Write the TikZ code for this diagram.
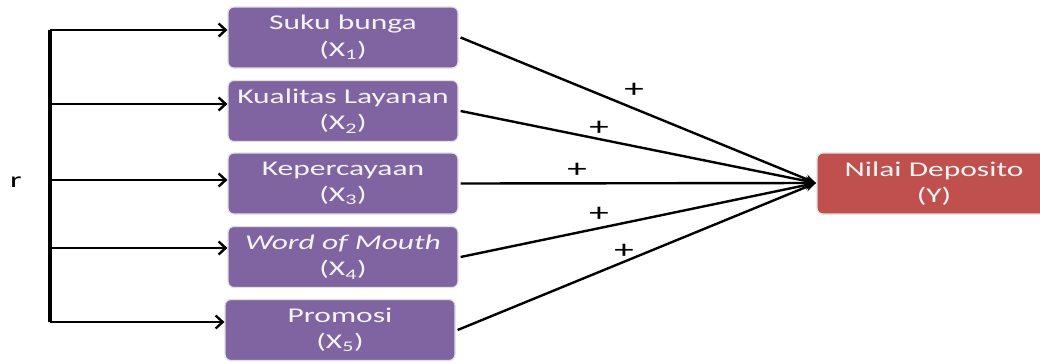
\documentclass[tikz,border=0pt]{standalone}
\usepackage{fontspec}
\setmainfont[FakeStretch=1.5]{Carlito}
\usetikzlibrary{arrows.meta}
\definecolor{boxpurple}{HTML}{8064A2}
\definecolor{boxred}{HTML}{C0504D}
\definecolor{boxtext}{HTML}{F4F4F4}
\begin{document}
\begin{tikzpicture}[x=1pt,y=-1pt,
  var/.style={draw=black!12, line width=1.2pt, fill=boxpurple, rounded corners=6pt,
    minimum width=230pt, minimum height=61pt, text=boxtext, align=center,
    font=\fontsize{21}{26.5}\selectfont, inner sep=0pt},
  dep/.style={var, fill=boxred, minimum width=234pt},
  feed/.style={line width=2.8pt, -{Straight Barb[length=7pt,width=13pt,line width=2.4pt]}},
  effect/.style={line width=2.4pt, -{Stealth[length=11pt,width=9pt]}},
  sign/.style={font=\fontsize{26}{26}\selectfont, inner sep=0pt},
]
\useasboundingbox (0,0) rectangle (1040,362);
\node[var] (b1) at (343,37.5) {Suku bunga\\(X\textsubscript{1})};
\node[var] (b2) at (343,111) {Kualitas Layanan\\(X\textsubscript{2})};
\node[var] (b3) at (343,183.5) {Kepercayaan\\(X\textsubscript{3})};
\node[var] (b4) at (343,257) {\textit{Word of Mouth}\\(X\textsubscript{4})};
\node[var] (b5) at (340,330) {Promosi\\(X\textsubscript{5})};
\node[dep] (y) at (934,183.5) {Nilai Deposito\\(Y)};
\node[font=\fontsize{22}{22}\selectfont, inner sep=0pt] (r) at (16,182) {r};
% bracket
\coordinate (t1) at (50,30);
\coordinate (t2) at (50,104);
\coordinate (t3) at (50,180);
\coordinate (t4) at (50,248);
\coordinate (t5) at (50,322);
\draw[line width=4.5pt] (t1) -- (t5);
\draw[feed] (t1) -- (t1 -| b1.west);
\draw[feed] (t2) -- (t2 -| b2.west);
\draw[feed] (t3) -- (t3 -| b3.west);
\draw[feed] (t4) -- (t4 -| b4.west);
\draw[feed] (t5) -- (t5 -| b5.west);
% effects
\coordinate (tip) at (816,183);
\draw[effect] ([xshift=2pt]b1.east) -- (tip);
\draw[effect] ([xshift=2pt]b2.east) -- (tip);
\draw[effect] ([xshift=2pt]b3.east) -- (tip);
\draw[effect] ([xshift=2pt]b4.east) -- (tip);
\draw[effect] ([xshift=2pt]b5.east) -- (tip);
\node[sign] (p1) at (634,90) {+};
\node[sign] (p2) at (599,128) {+};
\node[sign] (p3) at (577,170) {+};
\node[sign] (p4) at (599,214) {+};
\node[sign] (p5) at (624,251) {+};
\end{tikzpicture}
\end{document}
